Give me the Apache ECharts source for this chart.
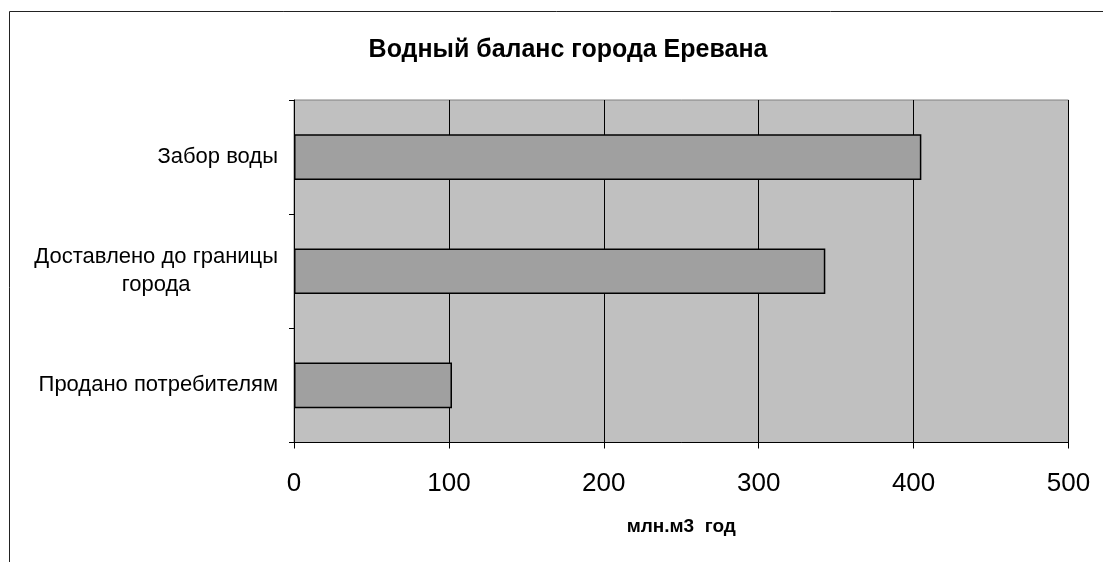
<!DOCTYPE html>
<html>
<head>
<meta charset="utf-8">
<script src="https://cdn.jsdelivr.net/npm/echarts@6/dist/echarts.min.js"></script>
<style>html,body{margin:0;padding:0;background:#fff}#c{width:1103px;height:562px}</style>
</head>
<body>
<div id="c"></div>
<script>
var titleText = 'Водный баланс города Еревана';
var categories = ['Забор воды', 'Доставлено до границы\nгорода', 'Продано потребителям'];
var values = [405, 343, 102];
var xTicks = [0, 100, 200, 300, 400, 500];
var xName = 'млн.м3  год';

var chart = echarts.init(document.getElementById('c'));
chart.setOption({
  animation: false,
  backgroundColor: '#fff',
  graphic: [{
    type: 'rect', silent: true, z: 0,
    shape: { x: 9.5, y: 11.5, width: 1200, height: 700 },
    style: { fill: 'none', stroke: '#222', lineWidth: 1 }
  }],
  title: {
    text: titleText, left: 563, top: 33, textAlign: 'center',
    textStyle: { fontFamily: 'Liberation Sans, Arial', fontWeight: 'bold', fontSize: 25, color: '#000' }
  },
  grid: {
    left: 294, right: 34.5, top: 100, bottom: 119.5,
    show: true, backgroundColor: '#c0c0c0', borderColor: '#808080', borderWidth: 1
  },
  xAxis: {
    type: 'value', min: xTicks[0], max: xTicks[xTicks.length - 1], interval: 100,
    name: xName, nameLocation: 'middle', nameGap: 75, nameMoveOverlap: false,
    nameTextStyle: { fontFamily: 'Liberation Sans, Arial', fontWeight: 'bold', fontSize: 19, color: '#000' },
    axisLine: { show: true, lineStyle: { color: '#000', width: 1 } },
    axisTick: { show: true, length: 6, lineStyle: { color: '#000' } },
    axisLabel: { fontFamily: 'Liberation Sans, Arial', fontSize: 26, color: '#000', margin: 28 },
    splitLine: { show: true, lineStyle: { color: '#000', width: 1 } }
  },
  yAxis: {
    type: 'category', data: categories, inverse: true,
    axisLine: { show: true, lineStyle: { color: '#000', width: 1 } },
    axisTick: { show: true, length: 5, lineStyle: { color: '#000' } },
    axisLabel: {
      margin: 16, color: '#000',
      formatter: function (v) {
        return v.split('\n').map(function (s) { return '{a|' + s + '}'; }).join('\n');
      },
      rich: { a: { fontFamily: 'Liberation Sans, Arial', fontSize: 22, color: '#000', align: 'center', lineHeight: 28 } }
    },
    splitLine: { show: false }
  },
  series: [{
    type: 'bar', data: values, barCategoryGap: '60%',
    itemStyle: { color: '#a0a0a0', borderColor: '#000', borderWidth: 1.5 }
  }]
});
</script>
</body>
</html>
